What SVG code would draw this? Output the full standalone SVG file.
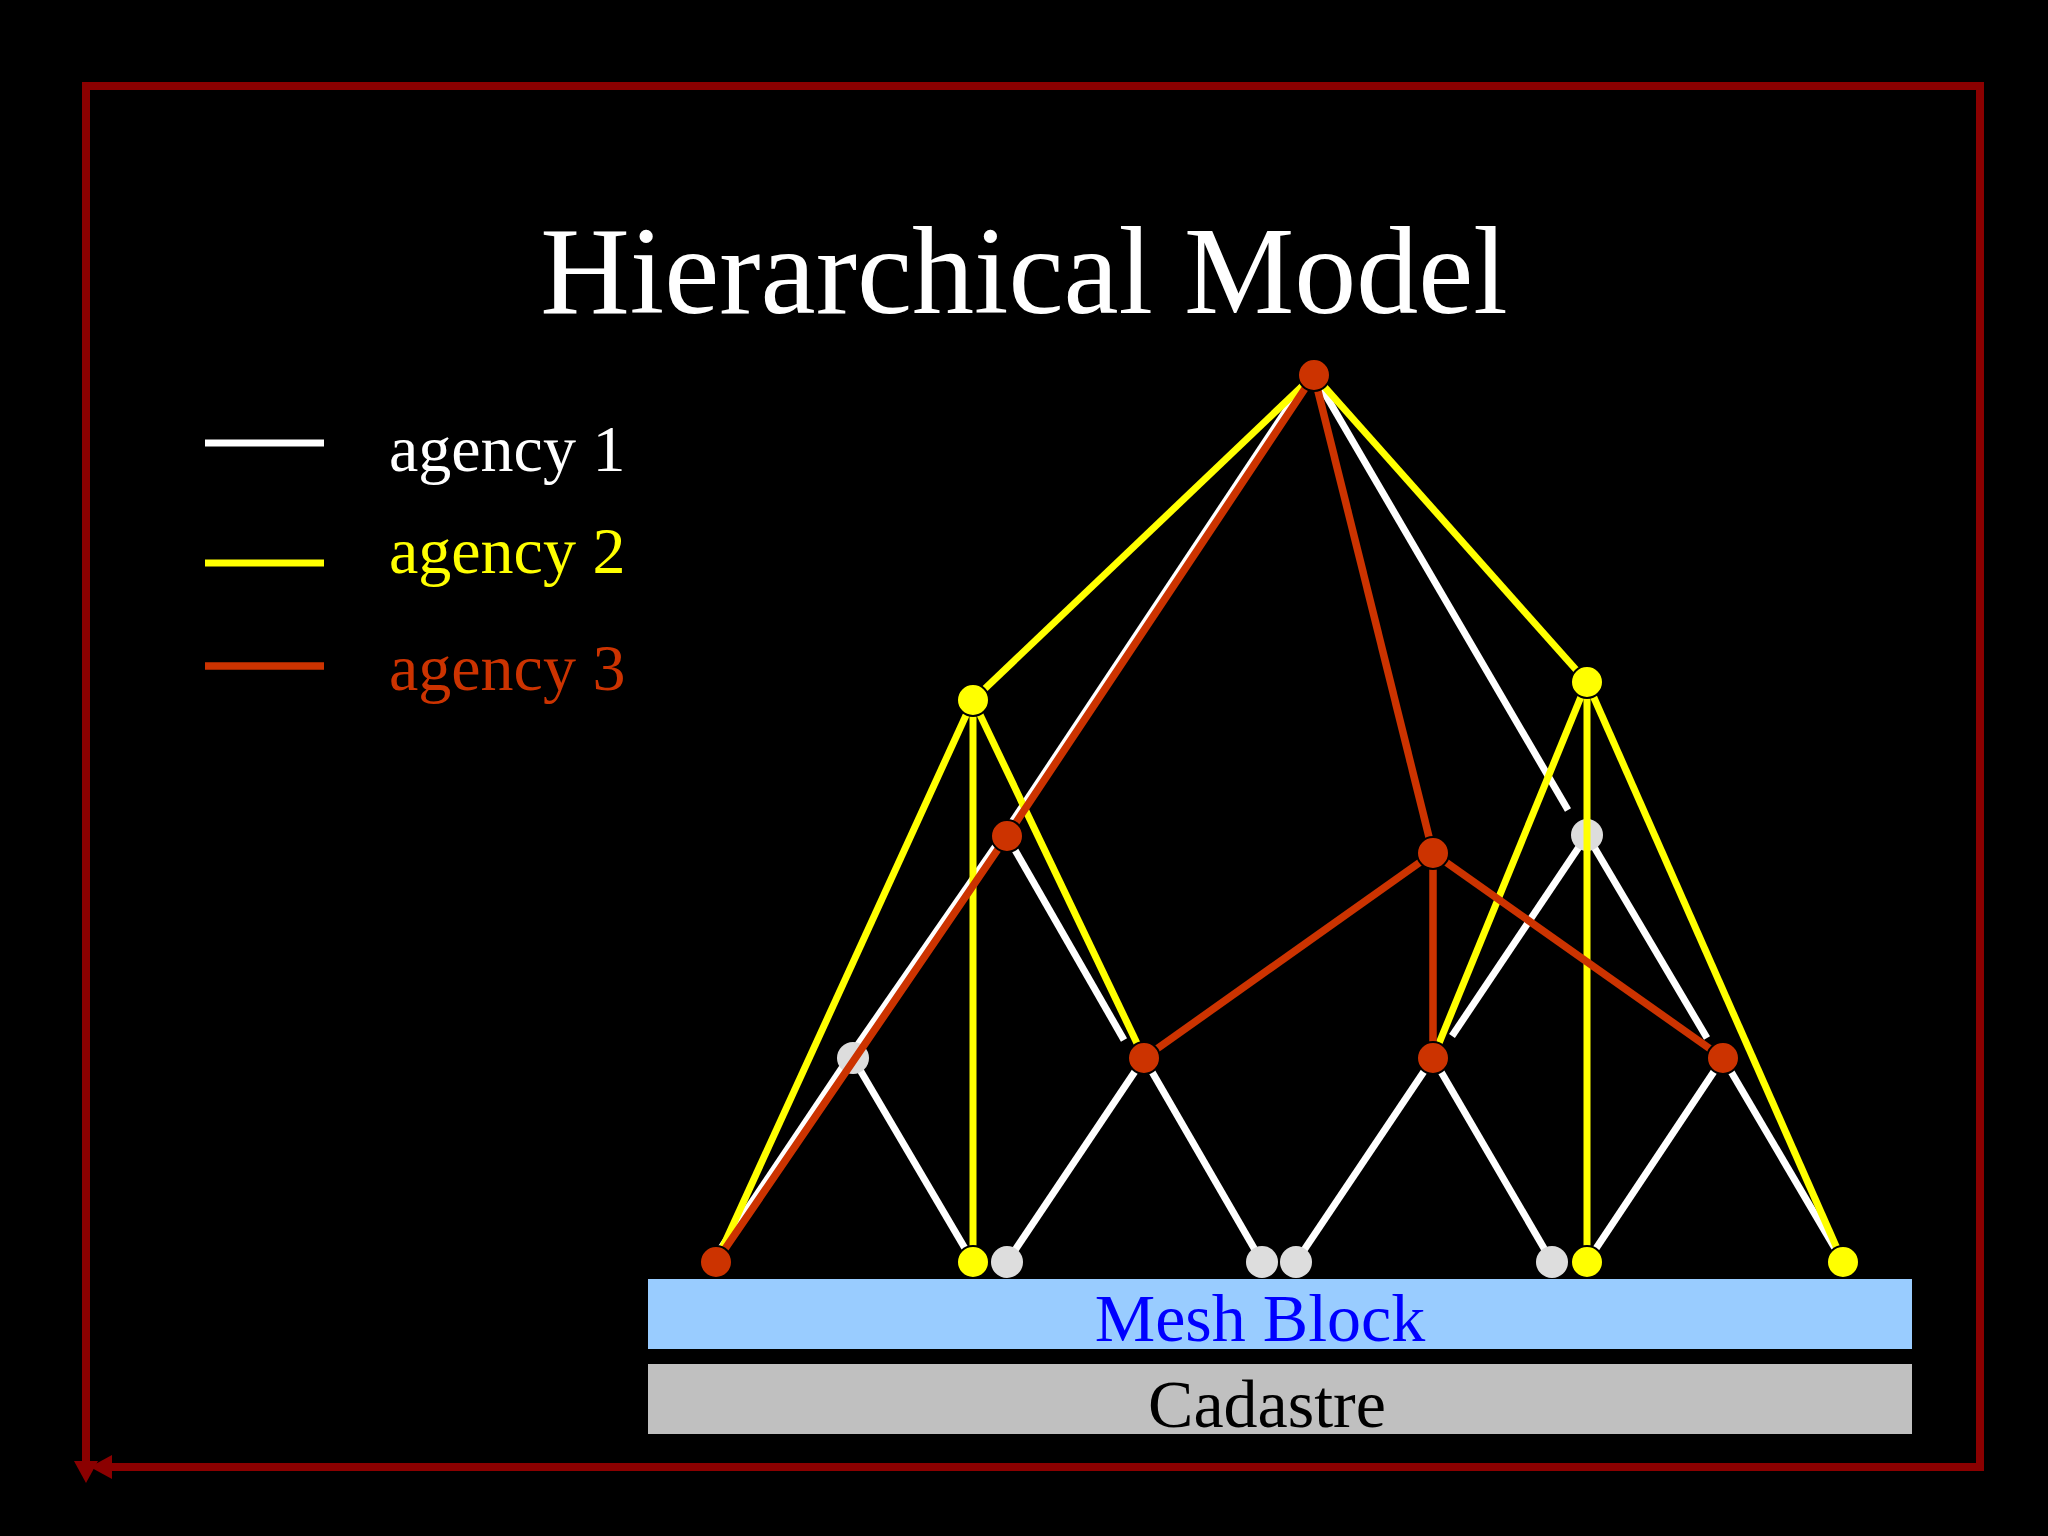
<svg xmlns="http://www.w3.org/2000/svg" width="2048" height="1536" viewBox="0 0 2048 1536">
<style>
  text { font-family: "Liberation Serif", "Times New Roman", serif; }
  .w { stroke: #ffffff; stroke-width: 7; fill: none; }
  .y { stroke: #ffff00; stroke-width: 7; fill: none; }
  .r { stroke: #cc3300; stroke-width: 7.5; fill: none; }
  .frame { stroke: #8b0000; stroke-width: 8; fill: none; }
  .nr { fill: #cc3300; stroke: #000000; stroke-width: 2; }
  .ny { fill: #ffff00; stroke: #000000; stroke-width: 2; }
  .ng { fill: #dddddd; stroke: none; }
</style>
<defs>
  <marker id="arr" markerUnits="userSpaceOnUse" markerWidth="24" markerHeight="24" refX="12" refY="12" orient="auto">
    <path d="M0,0 L22,12 L0,24 z" fill="#8b0000"/>
  </marker>
</defs>
<rect x="0" y="0" width="2048" height="1536" fill="#000000"/>

<g id="frame">
  <path class="frame" d="M82,86 H1980 V1467 H100" marker-end="url(#arr)"/>
  <path class="frame" d="M86,86 V1473" marker-end="url(#arr)"/>
</g>

<g id="title">
  <text x="1024" y="313" font-size="124" fill="#ffffff" text-anchor="middle">Hierarchical Model</text>
</g>

<g id="legend">
  <line class="w" x1="205" y1="443" x2="324" y2="443"/>
  <line class="y" x1="205" y1="563" x2="324" y2="563"/>
  <line class="r" x1="205" y1="666" x2="324" y2="666"/>
  <text x="389" y="471" font-size="66" fill="#ffffff">agency 1</text>
  <text x="389" y="573" font-size="66" fill="#ffff00">agency 2</text>
  <text x="389" y="690" font-size="66" fill="#cc3300">agency 3</text>
</g>

<g id="mesh-block">
  <rect x="648" y="1279" width="1264" height="70" fill="#99ccff"/>
  <text x="1260" y="1341" font-size="68" fill="#0000ff" text-anchor="middle">Mesh Block</text>
</g>
<g id="cadastre">
  <rect x="648" y="1364" width="1264" height="70" fill="#c0c0c0"/>
  <text x="1267" y="1427" font-size="68" fill="#000000" text-anchor="middle">Cadastre</text>
</g>

<g id="connectors-agency1">
  <line class="w" x1="1311" y1="373" x2="1004" y2="834"/>
  <line class="w" x1="1004" y1="834" x2="850" y2="1056"/>
  <line class="w" x1="850" y1="1056" x2="713" y2="1260"/>
  <line class="w" x1="1007" y1="836" x2="1124" y2="1040"/>
  <line class="w" x1="853" y1="1058" x2="973" y2="1262"/>
  <line class="w" x1="1144" y1="1058" x2="1007" y2="1262"/>
  <line class="w" x1="1144" y1="1058" x2="1262" y2="1262"/>
  <line class="w" x1="1314" y1="375" x2="1568" y2="810"/>
  <line class="w" x1="1587" y1="835" x2="1452" y2="1036"/>
  <line class="w" x1="1587" y1="835" x2="1707" y2="1038"/>
  <line class="w" x1="1433" y1="1058" x2="1296" y2="1262"/>
  <line class="w" x1="1433" y1="1058" x2="1552" y2="1262"/>
  <line class="w" x1="1723" y1="1058" x2="1587" y2="1262"/>
  <line class="w" x1="1723" y1="1058" x2="1843" y2="1262"/>
</g>

<g id="nodes-agency1">
  <circle id="n-b1" class="ng" cx="1587" cy="835" r="16"/>
  <circle id="n-l2a" class="ng" cx="853" cy="1058" r="16"/>
  <circle id="n-b1007" class="ng" cx="1007" cy="1262" r="16"/>
  <circle id="n-b1262" class="ng" cx="1262" cy="1262" r="16"/>
  <circle id="n-b1296" class="ng" cx="1296" cy="1262" r="16"/>
  <circle id="n-b1552" class="ng" cx="1552" cy="1262" r="16"/>
</g>

<g id="connectors-agency2">
  <line class="y" x1="1314" y1="375" x2="973" y2="700"/>
  <line class="y" x1="1314" y1="375" x2="1587" y2="682"/>
  <line class="y" x1="973" y1="700" x2="716" y2="1262"/>
  <line class="y" x1="973" y1="700" x2="973" y2="1262"/>
  <line class="y" x1="973" y1="700" x2="1144" y2="1058"/>
  <line class="y" x1="1587" y1="682" x2="1433" y2="1058"/>
  <line class="y" x1="1587" y1="682" x2="1587" y2="1262"/>
  <line class="y" x1="1587" y1="682" x2="1843" y2="1262"/>
</g>

<g id="nodes-agency2">
  <circle id="n-yl" class="ny" cx="973" cy="700" r="16"/>
  <circle id="n-yr" class="ny" cx="1587" cy="682" r="16"/>
  <circle id="n-b973" class="ny" cx="973" cy="1262" r="16"/>
  <circle id="n-b1587" class="ny" cx="1587" cy="1262" r="16"/>
  <circle id="n-b1843" class="ny" cx="1843" cy="1262" r="16"/>
</g>

<g id="connectors-agency3">
  <polyline class="r" points="1314,375 1007,836 716,1262"/>
  <line class="r" x1="1314" y1="375" x2="1433" y2="853"/>
  <line class="r" x1="1433" y1="853" x2="1144" y2="1058"/>
  <line class="r" x1="1433" y1="853" x2="1433" y2="1058"/>
  <line class="r" x1="1433" y1="853" x2="1723" y2="1058"/>
</g>

<g id="nodes-agency3">
  <circle id="n-top" class="nr" cx="1314" cy="375" r="16"/>
  <circle id="n-a1" class="nr" cx="1007" cy="836" r="16"/>
  <circle id="n-rm" class="nr" cx="1433" cy="853" r="16"/>
  <circle id="n-l2b" class="nr" cx="1144" cy="1058" r="16"/>
  <circle id="n-l2c" class="nr" cx="1433" cy="1058" r="16"/>
  <circle id="n-l2d" class="nr" cx="1723" cy="1058" r="16"/>
  <circle id="n-b716" class="nr" cx="716" cy="1262" r="16"/>
</g>
</svg>
